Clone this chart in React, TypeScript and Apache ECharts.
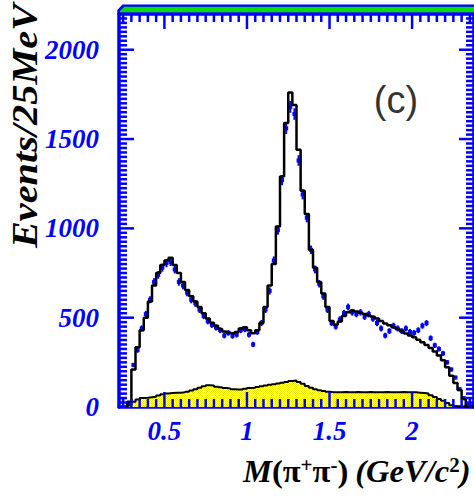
import React, { useEffect, useRef } from "react";
import * as echarts from "echarts";

// π+π- invariant mass, 25 MeV bins; first bin starts at 0.275 GeV/c^2
const BIN_LOW_START = 0.275;
const BIN_WIDTH = 0.025;

// total fit (black histogram)
const fitCounts = [
  30, 210, 335, 430, 500, 590, 680, 750, 795, 820,
  835, 795, 750, 700, 655, 620, 590, 560, 525, 495,
  472, 455, 437, 422, 415, 412, 420, 440, 447, 430,
  413, 430, 470, 560, 680, 800, 1010, 1290, 1590, 1760,
  1690, 1440, 1210, 1080, 880, 780, 700, 635, 560, 482,
  460, 478, 510, 530, 540, 535, 527, 520, 512, 505,
  495, 482, 468, 457, 447, 437, 425, 412, 400, 390,
  376, 362, 347, 330, 310, 288, 262, 222, 175, 135,
  95, 45, 0, 0,
];

// measured events (blue points)
const dataCounts = [
  15, 235, 318, 440, 520, 600, 700, 740, 780, 805,
  812, 770, 700, 680, 640, 600, 580, 545, 510, 480,
  460, 445, 430, 400, 415, 398, 405, 430, 435, 405,
  350, 420, 470, 545, 650, 820, 990, 1270, 1560, 1680,
  1640, 1380, 1190, 1060, 880, 770, 690, 620, 545, 470,
  450, 490, 525, 560, 530, 520, 530, 505, 520, 495,
  470, 440, 400, 425, 455, 440, 425, 440, 420, 415,
  430, 455, 470, 385, 345, 325, 300, 250, 210, 165,
  100, 50, 10, 5,
];

// background contribution (yellow histogram)
const bkgCounts = [
  10, 30, 42, 50, 52, 55, 58, 64, 72, 76,
  78, 80, 80, 82, 86, 92, 100, 108, 116, 122,
  120, 114, 110, 106, 104, 100, 98, 98, 102, 106,
  108, 112, 116, 120, 124, 128, 132, 136, 140, 146,
  148, 140, 130, 118, 108, 100, 94, 90, 86, 83,
  82, 83, 84, 82, 83, 84, 82, 83, 84, 83,
  82, 83, 84, 83, 82, 83, 84, 82, 83, 82,
  80, 78, 75, 66, 56, 45, 35, 22, 10, 3,
  0, 0, 0, 0,
];

const xTickLabels = [0.5, 1, 1.5, 2];
const yTickLabels = [0, 500, 1000, 1500, 2000];
const X_MINOR_STEP = 0.05;
const X_FIRST_MINOR = 0.25;
const X_LAST_MINOR = 2.35;
const Y_MINOR_STEP = 25;

const X_MIN = 0.225;
const X_MAX = 2.375;
const Y_MAX = 2200;
const PLOT_LEFT = 119;
const PLOT_TOP = 14;
const PLOT_WIDTH = 355;
const PLOT_HEIGHT = 393;

const BLUE = "#0000ff";
const SERIF = "'Liberation Serif', 'Times New Roman', serif";
const ERR_SCALE = 0.8;
const MAJOR_TICK = 15;
const MINOR_TICK = 8;
const TICK_WIDTH = 2.5;

const binLows = (n: number) =>
  Array.from({ length: n }, (_, i) => +(BIN_LOW_START + i * BIN_WIDTH).toFixed(3));

// outline points for a step histogram drawn with step: "end"
function stepPoints(values: number[]) {
  const lows = binLows(values.length);
  const pts: number[][] = [[lows[0], 0]];
  values.forEach((v, i) => pts.push([lows[i], v]));
  const end = +(lows[lows.length - 1] + BIN_WIDTH).toFixed(3);
  pts.push([end, values[values.length - 1]]);
  pts.push([end, 0]);
  return pts;
}

// x tick positions: [value, isMajor]
function xTicks() {
  const n = Math.round((X_LAST_MINOR - X_FIRST_MINOR) / X_MINOR_STEP);
  const out: number[][] = [];
  for (let i = 0; i <= n; i++) {
    const v = +(X_FIRST_MINOR + i * X_MINOR_STEP).toFixed(3);
    out.push([v, xTickLabels.includes(v) ? 1 : 0]);
  }
  return out;
}

// y tick positions: [value, isMajor]
function yTicks() {
  const n = Math.round(Y_MAX / Y_MINOR_STEP);
  const out: number[][] = [];
  for (let i = 1; i < n; i++) {
    const v = i * Y_MINOR_STEP;
    out.push([v, yTickLabels.includes(v) ? 1 : 0]);
  }
  return out;
}

export default function App() {
  const ref = useRef<HTMLDivElement>(null);

  useEffect(() => {
    if (!ref.current) return;
    const chart = echarts.init(ref.current, null, { renderer: "svg" });

    // stippled yellow fill
    const cv = document.createElement("canvas");
    cv.width = 2;
    cv.height = 2;
    const ctx = cv.getContext("2d")!;
    ctx.fillStyle = "#f8f000";
    ctx.fillRect(0, 0, 2, 2);
    ctx.fillStyle = "#ffffc0";
    ctx.fillRect(1, 0, 1, 1);
    ctx.fillRect(0, 1, 1, 1);
    const yellowFill: any = { image: cv.toDataURL(), repeat: "repeat", imageWidth: 2, imageHeight: 2 };

    const lows = binLows(dataCounts.length);
    const points = lows
      .map((l, i) => [+(l + BIN_WIDTH / 2).toFixed(4), dataCounts[i], Math.sqrt(dataCounts[i]) * ERR_SCALE])
      .filter((p) => p[1] > 0);

    const frameLine = { show: true, onZero: false, lineStyle: { color: BLUE, width: 3.5 } };

    chart.setOption({
      animation: false,
      backgroundColor: "#ffffff",
      grid: { left: PLOT_LEFT, top: PLOT_TOP, width: PLOT_WIDTH, height: PLOT_HEIGHT },
      xAxis: [
        {
          type: "value", position: "bottom", min: X_MIN, max: X_MAX,
          axisLine: frameLine, axisTick: { show: false }, axisLabel: { show: false },
          splitLine: { show: false },
        },
        {
          type: "value", position: "top", min: X_MIN, max: X_MAX,
          axisLine: frameLine, axisTick: { show: false }, axisLabel: { show: false },
          splitLine: { show: false },
        },
      ],
      yAxis: [
        {
          type: "value", position: "left", min: 0, max: Y_MAX, interval: 500,
          axisLine: frameLine, axisTick: { show: false }, splitLine: { show: false },
          axisLabel: {
            color: BLUE,
            fontFamily: SERIF,
            fontStyle: "italic",
            fontWeight: "bold",
            fontSize: 27,
            margin: 20,
            formatter: (v: number) => (yTickLabels.includes(v) ? String(v) : ""),
          },
        },
        {
          type: "value", position: "right", min: 0, max: Y_MAX, interval: 500,
          axisLine: frameLine, axisTick: { show: false }, axisLabel: { show: false },
          splitLine: { show: false },
        },
      ],
      series: [
        {
          name: "background",
          type: "line",
          xAxisIndex: 0,
          yAxisIndex: 0,
          step: "end",
          symbol: "none",
          data: stepPoints(bkgCounts),
          lineStyle: { color: "#000000", width: 2 },
          areaStyle: { color: yellowFill, opacity: 1 },
          z: 1,
        },
        {
          name: "data",
          type: "custom",
          xAxisIndex: 0,
          yAxisIndex: 0,
          data: points,
          renderItem: (_params: any, api: any) => {
            const x = api.value(0);
            const v = api.value(1);
            const e = api.value(2);
            const c = api.coord([x, v]);
            const hi = api.coord([x, v + e]);
            const lo = api.coord([x, Math.max(0, v - e)]);
            return {
              type: "group",
              children: [
                {
                  type: "line",
                  shape: { x1: c[0], y1: hi[1], x2: c[0], y2: lo[1] },
                  style: { stroke: BLUE, lineWidth: 2 },
                },
                {
                  type: "rect",
                  shape: { x: c[0] - 2, y: c[1] - 2, width: 4, height: 4 },
                  style: { fill: BLUE },
                },
              ],
            };
          },
          z: 2,
        },
        {
          name: "fit",
          type: "line",
          xAxisIndex: 0,
          yAxisIndex: 0,
          step: "end",
          symbol: "none",
          data: stepPoints(fitCounts),
          lineStyle: { color: "#000000", width: 2.5 },
          z: 3,
        },
        {
          // ticks along the bottom and top frame, with the mass labels
          name: "xticks",
          type: "custom",
          xAxisIndex: 0,
          yAxisIndex: 0,
          data: xTicks(),
          renderItem: (_params: any, api: any) => {
            const v = api.value(0);
            const major = api.value(1) === 1;
            const len = major ? MAJOR_TICK : MINOR_TICK;
            const b = api.coord([v, 0]);
            const t = api.coord([v, Y_MAX]);
            const children: any[] = [
              { type: "rect", shape: { x: b[0] - TICK_WIDTH / 2, y: b[1] - len, width: TICK_WIDTH, height: len }, style: { fill: BLUE } },
              { type: "rect", shape: { x: t[0] - TICK_WIDTH / 2, y: t[1], width: TICK_WIDTH, height: len }, style: { fill: BLUE } },
            ];
            if (major) {
              children.push({
                type: "text",
                x: b[0],
                y: b[1] + 10,
                style: {
                  text: String(v),
                  fill: BLUE,
                  font: `italic bold 27px ${SERIF}`,
                  align: "center",
                  verticalAlign: "top",
                },
              });
            }
            return { type: "group", children };
          },
          z: 4,
        },
        {
          // ticks along the left and right frame
          name: "yticks",
          type: "custom",
          xAxisIndex: 0,
          yAxisIndex: 0,
          data: yTicks(),
          encode: { x: 1, y: 0 },
          renderItem: (_params: any, api: any) => {
            const v = api.value(0);
            const major = api.value(1) === 1;
            const len = major ? MAJOR_TICK : MINOR_TICK;
            const l = api.coord([X_MIN, v]);
            const r = api.coord([X_MAX, v]);
            return {
              type: "group",
              children: [
                { type: "rect", shape: { x: l[0], y: l[1] - TICK_WIDTH / 2, width: len, height: TICK_WIDTH }, style: { fill: BLUE } },
                { type: "rect", shape: { x: r[0] - len, y: r[1] - TICK_WIDTH / 2, width: len, height: TICK_WIDTH }, style: { fill: BLUE } },
              ],
            };
          },
          z: 4,
        },
      ],
      graphic: [
        {
          type: "polygon",
          shape: { points: [[117.3, 14], [117.3, 10], [122.5, 4.5], [474, 4.5], [474, 14]] },
          style: { fill: BLUE },
          z: 10,
        },
        {
          type: "polygon",
          shape: { points: [[120, 12.2], [120, 11], [124.3, 6.8], [474, 6.8], [474, 12.2]] },
          style: { fill: "#00e000" },
          z: 11,
        },
        {
          type: "text",
          x: 25,
          y: 126,
          rotation: Math.PI / 2,
          scaleX: 1.12,
          style: {
            text: "Events/25MeV",
            fill: "#000000",
            font: `italic bold 36px ${SERIF}`,
            align: "center",
            verticalAlign: "middle",
          },
          z: 10,
        },
        {
          type: "text",
          x: 243,
          y: 472,
          scaleX: 1.05,
          style: {
            text: "{m|M}{n|(π}{s|+}{n|π}{s|-}{n|)}  {i|(GeV/c}{s|2}{i|)}",
            align: "left",
            verticalAlign: "middle",
            rich: {
              m: { font: `italic bold 31px ${SERIF}`, fill: "#000", lineHeight: 34 },
              n: { font: `bold 31px ${SERIF}`, fill: "#000", lineHeight: 34 },
              i: { font: `italic bold 31px ${SERIF}`, fill: "#000", lineHeight: 34 },
              s: { font: `bold 20px ${SERIF}`, fill: "#000", lineHeight: 26, verticalAlign: "top" },
            },
          },
          z: 10,
        },
        {
          type: "text",
          x: 396,
          y: 100,
          style: {
            text: "(c)",
            fill: "#333333",
            font: "38px 'Liberation Sans', Arial, sans-serif",
            align: "center",
            verticalAlign: "middle",
          },
          z: 10,
        },
      ],
    });

    return () => chart.dispose();
  }, []);

  return (
    <div
      ref={ref}
      style={{ position: "fixed", left: 0, top: 0, width: 474, height: 500, background: "#fff" }}
    />
  );
}
